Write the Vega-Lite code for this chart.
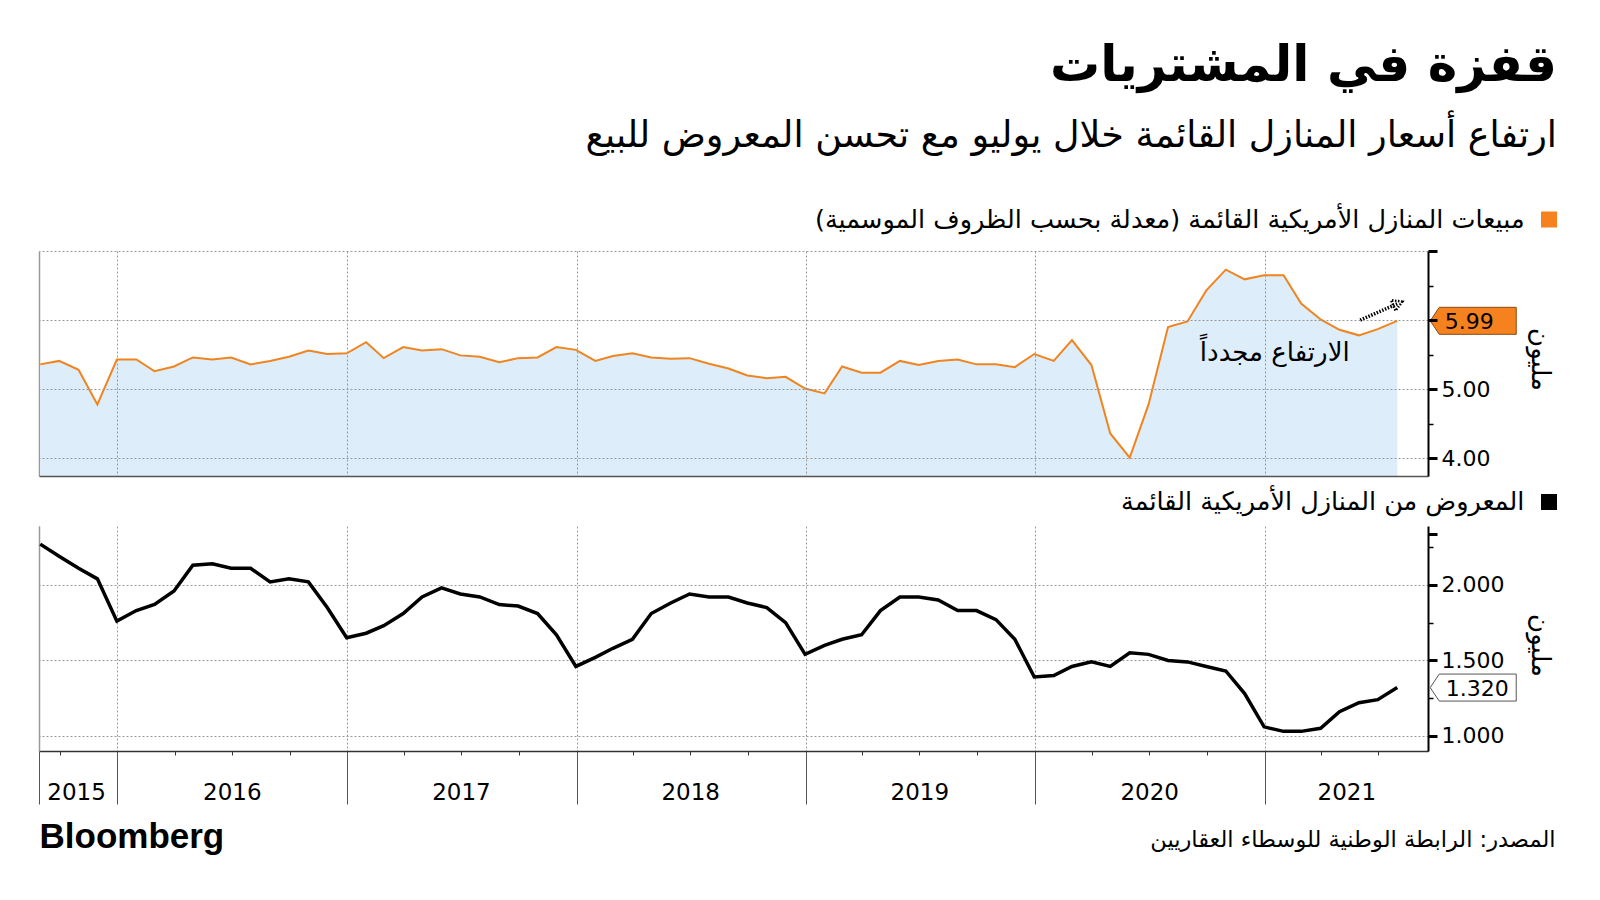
{
  "$schema": "https://vega.github.io/schema/vega-lite/v6.json",
  "padding": {"left": 33, "top": 40, "right": 10, "bottom": 10},
  "config": {"view": {"stroke": null}, "font": "DejaVu Sans", "axis": {"labelFont": "DejaVu Sans", "titleFont": "DejaVu Sans"}},
  "title": {
    "text": "قفزة في المشتريات",
    "subtitle": "ارتفاع أسعار المنازل القائمة خلال يوليو مع تحسن المعروض للبيع",
    "anchor": "end",
    "font": "DejaVu Sans", "fontSize": 50, "fontWeight": "bold", "color": "#000",
    "subtitleFont": "DejaVu Sans", "subtitleFontSize": 36.5, "subtitleColor": "#000", "subtitlePadding": 27,
    "offset": 57.5
  },
  "datasets": {
    "main": [
      {"date": "2015-08-31", "sales": 5.36, "inventory": 2.27},
      {"date": "2015-09-30", "sales": 5.41, "inventory": 2.19},
      {"date": "2015-10-31", "sales": 5.28, "inventory": 2.11},
      {"date": "2015-11-30", "sales": 4.78, "inventory": 2.04},
      {"date": "2015-12-31", "sales": 5.43, "inventory": 1.76},
      {"date": "2016-01-31", "sales": 5.43, "inventory": 1.83},
      {"date": "2016-02-29", "sales": 5.26, "inventory": 1.87},
      {"date": "2016-03-31", "sales": 5.33, "inventory": 1.96},
      {"date": "2016-04-30", "sales": 5.46, "inventory": 2.13},
      {"date": "2016-05-31", "sales": 5.43, "inventory": 2.14},
      {"date": "2016-06-30", "sales": 5.46, "inventory": 2.11},
      {"date": "2016-07-31", "sales": 5.36, "inventory": 2.11},
      {"date": "2016-08-31", "sales": 5.41, "inventory": 2.02},
      {"date": "2016-09-30", "sales": 5.47, "inventory": 2.04},
      {"date": "2016-10-31", "sales": 5.56, "inventory": 2.02},
      {"date": "2016-11-30", "sales": 5.51, "inventory": 1.85},
      {"date": "2016-12-31", "sales": 5.52, "inventory": 1.65},
      {"date": "2017-01-31", "sales": 5.68, "inventory": 1.68},
      {"date": "2017-02-28", "sales": 5.45, "inventory": 1.73},
      {"date": "2017-03-31", "sales": 5.61, "inventory": 1.81},
      {"date": "2017-04-30", "sales": 5.56, "inventory": 1.92},
      {"date": "2017-05-31", "sales": 5.58, "inventory": 1.98},
      {"date": "2017-06-30", "sales": 5.49, "inventory": 1.94},
      {"date": "2017-07-31", "sales": 5.47, "inventory": 1.92},
      {"date": "2017-08-31", "sales": 5.39, "inventory": 1.87},
      {"date": "2017-09-30", "sales": 5.45, "inventory": 1.86},
      {"date": "2017-10-31", "sales": 5.46, "inventory": 1.81},
      {"date": "2017-11-30", "sales": 5.61, "inventory": 1.67},
      {"date": "2017-12-31", "sales": 5.57, "inventory": 1.46},
      {"date": "2018-01-31", "sales": 5.41, "inventory": 1.52},
      {"date": "2018-02-28", "sales": 5.48, "inventory": 1.58},
      {"date": "2018-03-31", "sales": 5.52, "inventory": 1.64},
      {"date": "2018-04-30", "sales": 5.46, "inventory": 1.81},
      {"date": "2018-05-31", "sales": 5.44, "inventory": 1.88},
      {"date": "2018-06-30", "sales": 5.45, "inventory": 1.94},
      {"date": "2018-07-31", "sales": 5.37, "inventory": 1.92},
      {"date": "2018-08-31", "sales": 5.30, "inventory": 1.92},
      {"date": "2018-09-30", "sales": 5.20, "inventory": 1.88},
      {"date": "2018-10-31", "sales": 5.16, "inventory": 1.85},
      {"date": "2018-11-30", "sales": 5.18, "inventory": 1.75},
      {"date": "2018-12-31", "sales": 5.01, "inventory": 1.54},
      {"date": "2019-01-31", "sales": 4.94, "inventory": 1.60},
      {"date": "2019-02-28", "sales": 5.33, "inventory": 1.64},
      {"date": "2019-03-31", "sales": 5.24, "inventory": 1.67},
      {"date": "2019-04-30", "sales": 5.24, "inventory": 1.83},
      {"date": "2019-05-31", "sales": 5.41, "inventory": 1.92},
      {"date": "2019-06-30", "sales": 5.35, "inventory": 1.92},
      {"date": "2019-07-31", "sales": 5.41, "inventory": 1.90},
      {"date": "2019-08-31", "sales": 5.43, "inventory": 1.83},
      {"date": "2019-09-30", "sales": 5.36, "inventory": 1.83},
      {"date": "2019-10-31", "sales": 5.36, "inventory": 1.77},
      {"date": "2019-11-30", "sales": 5.32, "inventory": 1.64},
      {"date": "2019-12-31", "sales": 5.51, "inventory": 1.39},
      {"date": "2020-01-31", "sales": 5.41, "inventory": 1.40},
      {"date": "2020-02-29", "sales": 5.71, "inventory": 1.46},
      {"date": "2020-03-31", "sales": 5.35, "inventory": 1.49},
      {"date": "2020-04-30", "sales": 4.36, "inventory": 1.46},
      {"date": "2020-05-31", "sales": 4.01, "inventory": 1.55},
      {"date": "2020-06-30", "sales": 4.78, "inventory": 1.54},
      {"date": "2020-07-31", "sales": 5.90, "inventory": 1.50},
      {"date": "2020-08-31", "sales": 5.98, "inventory": 1.49},
      {"date": "2020-09-30", "sales": 6.43, "inventory": 1.46},
      {"date": "2020-10-31", "sales": 6.73, "inventory": 1.43},
      {"date": "2020-11-30", "sales": 6.59, "inventory": 1.28},
      {"date": "2020-12-31", "sales": 6.65, "inventory": 1.06},
      {"date": "2021-01-31", "sales": 6.65, "inventory": 1.03},
      {"date": "2021-02-28", "sales": 6.24, "inventory": 1.03},
      {"date": "2021-03-31", "sales": 6.01, "inventory": 1.05},
      {"date": "2021-04-30", "sales": 5.86, "inventory": 1.16},
      {"date": "2021-05-31", "sales": 5.78, "inventory": 1.22},
      {"date": "2021-06-30", "sales": 5.87, "inventory": 1.24},
      {"date": "2021-07-31", "sales": 5.99, "inventory": 1.32}
    ],
    "callout_top": [{"date": "2021-07-31", "value": 5.99}],
    "callout_bottom": [{"date": "2021-07-31", "value": 1.32}],
    "note": [{"date": "2021-01-17", "value": 5.53, "text": "الارتفاع مجدداً"}],
    "arrow": [{"date": "2021-06-02", "value": 6.0, "date2": "2021-08-01", "value2": 6.24}]
  },
  "spacing": 50,
  "bounds": "flush",
  "resolve": {"scale": {"color": "independent"}, "legend": {"color": "independent"}},
  "vconcat": [
    {
      "width": 1389,
      "height": 225,
      "resolve": {"axis": {"x": "independent", "y": "independent"}},
      "layer": [
        {
          "data": {"name": "main"},
          "mark": {"type": "area", "color": "#deedfa", "opacity": 1, "clip": true},
          "encoding": {
            "x": {"field": "date", "type": "temporal",
              "scale": {"type": "utc", "domain": [{"year": 2015, "month": 8, "date": 29, "utc": true}, {"year": 2021, "month": 9, "date": 18, "utc": true}]},
              "axis": {"orient": "bottom", "values": [{"year": 2016, "month": 1, "date": 1, "utc": true}, {"year": 2017, "month": 1, "date": 1, "utc": true}, {"year": 2018, "month": 1, "date": 1, "utc": true}, {"year": 2019, "month": 1, "date": 1, "utc": true}, {"year": 2020, "month": 1, "date": 1, "utc": true}, {"year": 2021, "month": 1, "date": 1, "utc": true}],
                "grid": true, "gridDash": [2, 2], "gridColor": "#999", "gridWidth": 1, "ticks": false, "labels": false, "domain": true, "domainColor": "#555", "domainWidth": 1.5, "title": null, "zindex": 1}},
            "y": {"field": "sales", "type": "quantitative",
              "scale": {"domain": [3.745, 7], "zero": false, "nice": false},
              "axis": {"orient": "right", "values": [4, 5, 6, 7], "labelExpr": "datum.value == 4 || datum.value == 5 ? format(datum.value, '.2f') : ''",
                "tickSize": 9, "tickWidth": 3, "tickColor": "#000", "domainColor": "#000", "domainWidth": 2,
                "grid": true, "gridDash": [2, 2], "gridColor": "#999", "gridWidth": 1,
                "labelFontSize": 22, "labelColor": "#000", "labelPadding": 4,
                "title": "مليون", "titleFontSize": 26, "titleFontWeight": "normal", "titleColor": "#000", "titleAngle": 90, "titleX": 111, "titleY": 108, "titleAlign": "center", "titleBaseline": "middle", "zindex": 1}}
          }
        },
        {
          "data": {"name": "main"},
          "mark": {"type": "line", "color": "#f0841f", "strokeWidth": 2},
          "encoding": {
            "x": {"field": "date", "type": "temporal", "scale": {"type": "utc", "domain": [{"year": 2015, "month": 8, "date": 29, "utc": true}, {"year": 2021, "month": 9, "date": 18, "utc": true}]}, "axis": null},
            "y": {"field": "sales", "type": "quantitative", "scale": {"domain": [3.745, 7], "zero": false, "nice": false},
              "axis": {"orient": "left", "ticks": false, "labels": false, "grid": false, "domain": true, "domainColor": "#999", "domainWidth": 1.5, "title": null}}
          }
        },
        {
          "data": {"name": "callout_top"},
          "mark": {"type": "point", "shape": "M1.32,0L1.68,-0.54L4.76,-0.54L4.76,0.54L1.68,0.54Z", "size": 2500, "filled": true, "opacity": 1, "stroke": "#8a4a10", "strokeWidth": 1},
          "encoding": {
            "x": {"field": "date", "type": "temporal", "scale": {"type": "utc", "domain": [{"year": 2015, "month": 8, "date": 29, "utc": true}, {"year": 2021, "month": 9, "date": 18, "utc": true}]}, "axis": null},
            "y": {"field": "value", "type": "quantitative", "scale": {"domain": [3.745, 7], "zero": false, "nice": false},
              "axis": {"orient": "right", "values": [4.5, 5.5, 6.5], "tickSize": 5, "tickWidth": 1.5, "tickColor": "#000", "labels": false, "domain": false, "grid": false, "title": null}},
            "color": {"datum": "sales", "type": "nominal", "scale": {"range": ["#f5821f"]},
              "legend": {"orient": "none", "legendX": 776, "legendY": -39.5, "title": "مبيعات المنازل الأمريكية القائمة (معدلة بحسب الظروف الموسمية)", "titleOrient": "left", "titleLimit": 1200, "titleFontSize": 25.5, "titleFont": "DejaVu Sans", "titleFontWeight": "normal", "titleColor": "#000", "titlePadding": 16, "titleBaseline": "middle", "labelExpr": "''", "labelOffset": 0, "symbolType": "square", "symbolSize": 256, "symbolStrokeWidth": 0, "padding": 0, "symbolOpacity": 1}}
          }
        },
        {
          "data": {"name": "callout_top"},
          "mark": {"type": "text", "dx": 72, "dy": 1, "fontSize": 22, "color": "#000", "align": "center", "baseline": "middle", "font": "DejaVu Sans"},
          "encoding": {
            "x": {"field": "date", "type": "temporal", "axis": null},
            "y": {"field": "value", "type": "quantitative", "axis": null},
            "text": {"field": "value", "type": "quantitative", "format": ".2f"}
          }
        },
        {
          "data": {"name": "note"},
          "mark": {"type": "text", "fontSize": 26, "color": "#000", "align": "center", "baseline": "middle", "font": "DejaVu Sans"},
          "encoding": {
            "x": {"field": "date", "type": "temporal", "axis": null},
            "y": {"field": "value", "type": "quantitative", "axis": null},
            "text": {"field": "text", "type": "nominal"}
          }
        },
        {
          "data": {"name": "arrow", "format": {"parse": {"date": "date", "date2": "date"}}},
          "mark": {"type": "rule", "strokeDash": [1.5, 1.5], "strokeWidth": 3.5, "color": "#000"},
          "encoding": {
            "x": {"field": "date", "type": "temporal", "axis": null},
            "y": {"field": "value", "type": "quantitative", "axis": null},
            "x2": {"field": "date2"},
            "y2": {"field": "value2"}
          }
        },
        {
          "data": {"name": "arrow", "format": {"parse": {"date": "date", "date2": "date"}}},
          "mark": {"type": "point", "shape": "triangle-right", "angle": -23, "size": 130, "filled": false, "strokeWidth": 2.5, "strokeDash": [1.5, 1.5], "color": "#000", "opacity": 1},
          "encoding": {
            "x": {"field": "date2", "type": "temporal", "axis": null},
            "y": {"field": "value2", "type": "quantitative", "axis": null}
          }
        }
      ]
    },
    {
      "width": 1389,
      "height": 225,
      "resolve": {"axis": {"x": "independent", "y": "independent"}},
      "layer": [
        {
          "data": {"name": "main"},
          "mark": {"type": "line", "color": "#000", "strokeWidth": 3.5},
          "encoding": {
            "x": {"field": "date", "type": "temporal",
              "scale": {"type": "utc", "domain": [{"year": 2015, "month": 8, "date": 29, "utc": true}, {"year": 2021, "month": 9, "date": 18, "utc": true}]},
              "axis": {"orient": "bottom", "values": [{"year": 2015, "month": 10, "date": 27, "utc": true}, {"year": 2016, "month": 7, "date": 1, "utc": true}, {"year": 2017, "month": 7, "date": 1, "utc": true}, {"year": 2018, "month": 7, "date": 1, "utc": true}, {"year": 2019, "month": 7, "date": 1, "utc": true}, {"year": 2020, "month": 7, "date": 1, "utc": true}, {"year": 2021, "month": 5, "date": 11, "utc": true}],
                "format": "%Y", "ticks": false, "tickSize": 0, "domain": false, "grid": false, "labelFlush": false, "labelOverlap": false,
                "labelFontSize": 23, "labelColor": "#000", "labelPadding": 30, "labelFont": "DejaVu Sans",
                "title": "Bloomberg", "titleFont": "Liberation Sans", "titleFontSize": 35, "titleFontWeight": "bold", "titleColor": "#000", "titleX": 0, "titleY": 85, "titleAlign": "left", "titleBaseline": "middle"}},
            "y": {"field": "inventory", "type": "quantitative",
              "scale": {"domain": [0.9, 2.39], "zero": false, "nice": false},
              "axis": {"orient": "right", "values": [1, 1.5, 2], "format": ".3f",
                "tickSize": 9, "tickWidth": 3, "tickColor": "#000", "domainColor": "#000", "domainWidth": 2,
                "grid": true, "gridDash": [2, 2], "gridColor": "#999", "gridWidth": 1,
                "labelFontSize": 22, "labelColor": "#000", "labelPadding": 4,
                "title": "مليون", "titleFontSize": 26, "titleFontWeight": "normal", "titleColor": "#000", "titleAngle": 90, "titleX": 111, "titleY": 119, "titleAlign": "center", "titleBaseline": "middle"}}
          }
        },
        {
          "data": {"name": "callout_bottom"},
          "mark": {"type": "point", "shape": "M1.32,0L1.68,-0.54L4.76,-0.54L4.76,0.54L1.68,0.54Z", "size": 2500, "filled": true, "fill": "#fff", "opacity": 1, "stroke": "#555", "strokeWidth": 1},
          "encoding": {
            "x": {"field": "date", "type": "temporal",
              "scale": {"type": "utc", "domain": [{"year": 2015, "month": 8, "date": 29, "utc": true}, {"year": 2021, "month": 9, "date": 18, "utc": true}]},
              "axis": {"orient": "bottom", "values": [{"year": 2015, "month": 8, "date": 29, "utc": true}, {"year": 2016, "month": 1, "date": 1, "utc": true}, {"year": 2017, "month": 1, "date": 1, "utc": true}, {"year": 2018, "month": 1, "date": 1, "utc": true}, {"year": 2019, "month": 1, "date": 1, "utc": true}, {"year": 2020, "month": 1, "date": 1, "utc": true}, {"year": 2021, "month": 1, "date": 1, "utc": true}],
                "ticks": true, "tickSize": 53, "tickColor": "#555", "tickWidth": 1, "labels": false, "domain": false,
                "grid": true, "gridDash": [2, 2], "gridColor": "#999", "gridWidth": 1,
                "title": "المصدر: الرابطة الوطنية للوسطاء العقاريين", "titleFontSize": 22.5, "titleFontWeight": "normal", "titleColor": "#000", "titleX": 1516, "titleY": 88, "titleAlign": "right", "titleBaseline": "middle"}},
            "y": {"field": "value", "type": "quantitative", "scale": {"domain": [0.9, 2.39], "zero": false, "nice": false},
              "axis": {"orient": "left", "ticks": false, "labels": false, "grid": false, "domain": true, "domainColor": "#999", "domainWidth": 1.5, "title": null}}
          }
        },
        {
          "data": {"name": "callout_bottom"},
          "mark": {"type": "text", "dx": 80, "dy": 1, "fontSize": 22, "align": "center", "baseline": "middle", "font": "DejaVu Sans"},
          "encoding": {
            "x": {"field": "date", "type": "temporal",
              "axis": {"orient": "bottom", "values": [{"year": 2015, "month": 10, "date": 1, "utc": true}, {"year": 2016, "month": 4, "date": 1, "utc": true}, {"year": 2016, "month": 7, "date": 1, "utc": true}, {"year": 2016, "month": 10, "date": 1, "utc": true}, {"year": 2017, "month": 4, "date": 1, "utc": true}, {"year": 2017, "month": 7, "date": 1, "utc": true}, {"year": 2017, "month": 10, "date": 1, "utc": true}, {"year": 2018, "month": 4, "date": 1, "utc": true}, {"year": 2018, "month": 7, "date": 1, "utc": true}, {"year": 2018, "month": 10, "date": 1, "utc": true}, {"year": 2019, "month": 4, "date": 1, "utc": true}, {"year": 2019, "month": 7, "date": 1, "utc": true}, {"year": 2019, "month": 10, "date": 1, "utc": true}, {"year": 2020, "month": 4, "date": 1, "utc": true}, {"year": 2020, "month": 7, "date": 1, "utc": true}, {"year": 2020, "month": 10, "date": 1, "utc": true}, {"year": 2021, "month": 4, "date": 1, "utc": true}, {"year": 2021, "month": 7, "date": 1, "utc": true}],
                "ticks": true, "tickSize": 4, "tickColor": "#333", "tickWidth": 1, "labels": false, "domain": true, "domainColor": "#333", "domainWidth": 1.5, "grid": false, "title": null}},
            "y": {"field": "value", "type": "quantitative",
              "axis": {"orient": "right", "values": [1.25, 1.75, 2.25, 2.34],
                "tickSize": {"condition": {"test": "datum.value > 2.3", "value": 9}, "value": 5},
                "tickWidth": {"condition": {"test": "datum.value > 2.3", "value": 3}, "value": 1.5},
                "tickColor": "#000", "labels": false, "domain": false, "grid": false, "title": null}},
            "text": {"field": "value", "type": "quantitative", "format": ".3f"},
            "color": {"datum": "inventory", "type": "nominal", "scale": {"range": ["#000"]},
              "legend": {"orient": "none", "legendX": 1082, "legendY": -32, "title": "المعروض من المنازل الأمريكية القائمة", "titleOrient": "left", "titleLimit": 1200, "titleFontSize": 25.5, "titleFont": "DejaVu Sans", "titleFontWeight": "normal", "titleColor": "#000", "titlePadding": 16, "titleBaseline": "middle", "labelExpr": "''", "labelOffset": 0, "symbolType": "square", "symbolSize": 256, "symbolStrokeWidth": 0, "padding": 0, "symbolOpacity": 1}}
          }
        }
      ]
    }
  ]
}
